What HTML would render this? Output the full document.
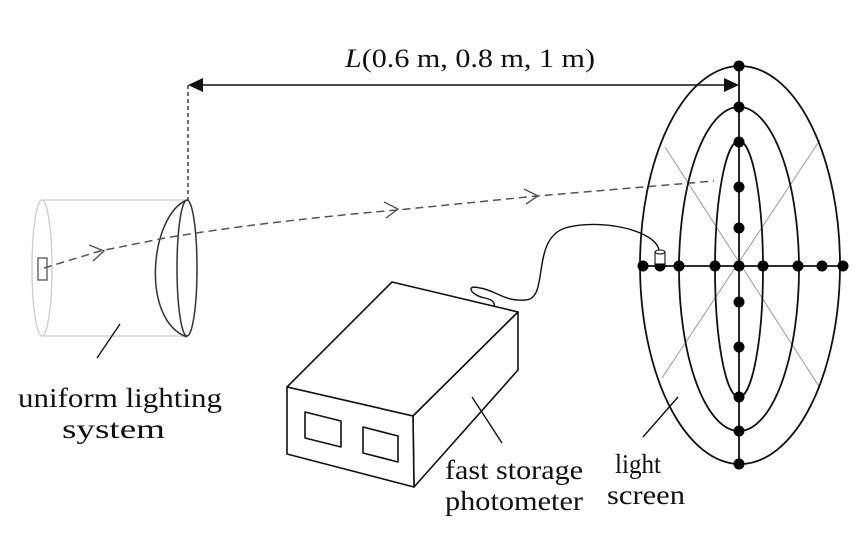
<!DOCTYPE html>
<html><head><meta charset="utf-8"><style>
html,body{margin:0;padding:0;background:#fff;}
svg{display:block;}
text{font-family:"Liberation Serif",serif;fill:#111;}
</style></head><body>
<svg width="864" height="546" viewBox="0 0 864 546" xmlns="http://www.w3.org/2000/svg">
<!-- cylinder -->
<g stroke="#ccc" stroke-width="1.3" fill="none">
<ellipse cx="42" cy="268" rx="10" ry="68"/>
<line x1="42" y1="200" x2="186" y2="200"/>
<line x1="42" y1="336" x2="186" y2="336"/>
</g>
<rect x="38" y="258" width="9" height="22" fill="none" stroke="#555" stroke-width="1.3"/>
<!-- lens -->
<g stroke="#333" stroke-width="1.5" fill="none">
<path d="M187 200 C150 215 140 320 187 337"/>
<ellipse cx="187" cy="268" rx="10" ry="68"/>
</g>
<!-- ray -->
<path d="M44 268 L100 251 L165 238 Q260 222 397 210 L537 196 L714 181" fill="none" stroke="#555" stroke-width="1.5" stroke-dasharray="8,5"/>
<g stroke="#555" stroke-width="1.4" fill="none">
<path d="M89 245 L104 251 L93 261"/>
<path d="M384 202 L398 209 L386 218"/>
<path d="M524 189 L538 196 L526 204"/>
</g>
<!-- dimension -->
<line x1="188" y1="85" x2="188" y2="200" stroke="#111" stroke-width="1.2" stroke-dasharray="4,3"/>
<line x1="200" y1="85" x2="726" y2="85" stroke="#111" stroke-width="1.5"/>
<polygon points="188,85 203,78 203,92" fill="#111"/>
<polygon points="739,85 724,78 724,92" fill="#111"/>
<text x="345" y="67" font-size="26" textLength="250" lengthAdjust="spacingAndGlyphs"><tspan font-style="italic">L</tspan>(0.6 m, 0.8 m, 1 m)</text>
<!-- screen -->
<g stroke="#999" stroke-width="1">
<line x1="665" y1="147" x2="820" y2="388"/>
<line x1="820" y1="140" x2="662" y2="378"/>
</g>
<g stroke="#111" stroke-width="1.8" fill="none">
<ellipse cx="740" cy="265" rx="100" ry="199"/>
<ellipse cx="739" cy="269" rx="60" ry="162"/>
<ellipse cx="739" cy="269" rx="24" ry="128"/>
<line x1="739" y1="66" x2="739" y2="464"/>
<line x1="643" y1="266" x2="843" y2="266"/>
</g>
<g fill="#000">
<circle cx="739" cy="66" r="5.5"/><circle cx="739" cy="107" r="5.5"/><circle cx="739" cy="142" r="5.5"/>
<circle cx="739" cy="187" r="5.5"/><circle cx="739" cy="228" r="5.5"/><circle cx="739" cy="302" r="5.5"/>
<circle cx="739" cy="347" r="5.5"/><circle cx="739" cy="397" r="5.5"/><circle cx="739" cy="431" r="5.5"/>
<circle cx="739" cy="464" r="5.5"/>
<circle cx="643" cy="266" r="5.5"/><circle cx="660" cy="266" r="5.5"/><circle cx="679" cy="266" r="5.5"/>
<circle cx="715" cy="266" r="5.5"/><circle cx="739" cy="266" r="5.5"/><circle cx="763" cy="266" r="5.5"/>
<circle cx="798" cy="266" r="5.5"/><circle cx="822" cy="266" r="5.5"/><circle cx="843" cy="266" r="5.5"/>
</g>
<!-- probe -->
<g stroke="#111" stroke-width="1.1" fill="#fff">
<rect x="655" y="252" width="10" height="12"/>
<ellipse cx="660" cy="252" rx="5" ry="2"/>
</g>
<!-- cable -->
<path d="M659 250 C655 230 600 218 565 228 C530 240 550 300 525 300 C505 302 495 290 480 288 C465 284 470 295 485 298 C495 300 495 305 494 308" fill="none" stroke="#111" stroke-width="1.4"/>
<!-- box -->
<g stroke="#111" stroke-width="1.6" fill="#fff" stroke-linejoin="round">
<polygon points="287,387 392,282 518,312 413,416"/>
<polygon points="413,416 518,312 518,370 414,487"/>
<polygon points="287,387 413,416 414,487 287,454"/>
<polygon points="305,412 341,421 341,447 305,438" fill="none"/>
<polygon points="363,427 398,436 398,462 363,453" fill="none"/>
</g>
<!-- leaders -->
<g stroke="#111" stroke-width="1.4">
<line x1="120" y1="324" x2="97" y2="358"/>
<line x1="472" y1="397" x2="502" y2="443"/>
<line x1="678" y1="397" x2="643" y2="437"/>
</g>
<g font-size="27">
<text x="18" y="407" textLength="204" lengthAdjust="spacingAndGlyphs">uniform lighting</text>
<text x="62" y="438" textLength="103" lengthAdjust="spacingAndGlyphs">system</text>
<text x="445" y="479" textLength="138" lengthAdjust="spacingAndGlyphs">fast storage</text>
<text x="445" y="510" textLength="138" lengthAdjust="spacingAndGlyphs">photometer</text>
<text x="615" y="473" textLength="46" lengthAdjust="spacingAndGlyphs">light</text>
<text x="607" y="504" textLength="78" lengthAdjust="spacingAndGlyphs">screen</text>
</g>
</svg>
</body></html>
